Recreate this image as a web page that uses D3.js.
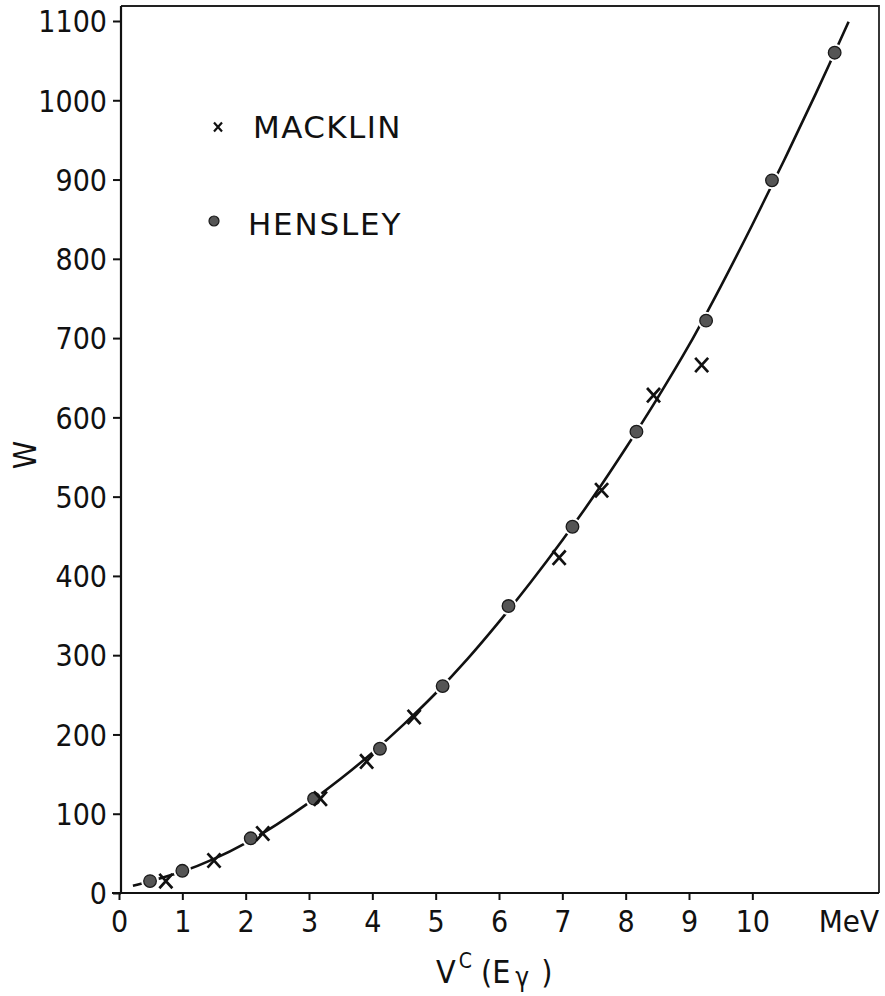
<!DOCTYPE html>
<html>
<head>
<meta charset="utf-8">
<script src="https://cdn.jsdelivr.net/npm/d3@7"></script>
<style>
  body { margin: 0; background: #fff; }
  svg text { font-family: "DejaVu Sans Condensed", "Liberation Sans", sans-serif; fill: #111; }
  svg text.legend { font-family: "DejaVu Sans", "Liberation Sans", sans-serif; }
</style>
</head>
<body>
<div id="chart"></div>
<script>
// fitted curve (V^c in MeV, W)
const curveV = [0.22, 0.5, 1, 1.5, 2, 2.5, 3, 3.5, 4, 4.5, 5, 5.5, 6, 6.5, 7, 7.5, 8, 8.5, 9, 9.5, 10, 10.5, 11, 11.52];
const curveW = [9, 15, 27, 43, 63, 87, 114, 144, 177, 213, 252, 295, 342, 392, 445, 501, 561, 624, 691, 765, 843, 924, 1008, 1099];

// MACKLIN (crosses)
const macklinV = [0.74, 1.50, 2.27, 3.18, 3.91, 4.66, 6.95, 7.62, 8.44, 9.20];
const macklinW = [15, 41, 75, 119, 166, 222, 423, 508, 628, 666];

// HENSLEY (dots)
const hensleyV = [0.49, 1.0, 2.08, 3.08, 4.12, 5.11, 6.15, 7.16, 8.17, 9.27, 10.31, 11.3];
const hensleyW = [15, 28, 69, 119, 182, 261, 362, 462, 582, 722, 899, 1060];

const xTicks = [0, 1, 2, 3, 4, 5, 6, 7, 8, 9, 10];
const yTicks = [0, 100, 200, 300, 400, 500, 600, 700, 800, 900, 1000, 1100];

const width = 885, height = 996;
const mLeft = 121, mRight = 879, mTop = 6, mBottom = 893;

const svg = d3.select("#chart").append("svg")
    .attr("width", width)
    .attr("height", height);

const x = d3.scaleLinear().domain([0, 12]).range([119, mRight]);
const y = d3.scaleLinear().domain([0, 1100]).range([mBottom, 21]);

//frame
svg.append("path")
    .attr("d", `M${mLeft},${mTop} L${mRight},${mTop} L${mRight},${mBottom}`)
    .attr("fill", "none")
    .attr("stroke", "#222")
    .attr("stroke-width", 1.8);

//y axis
const yAxis = svg.append("g")
    .attr("transform", `translate(${mLeft},0)`)
    .call(d3.axisLeft(y).tickValues(yTicks).tickFormat(d3.format("d"))
        .tickSize(8).tickSizeOuter(0).tickPadding(6));
yAxis.select(".domain").remove();
yAxis.selectAll("line").attr("stroke", "#111").attr("stroke-width", 2);
yAxis.selectAll("text").style("font-size", "30px").attr("dy", "0.36em").attr("fill", "#111");

//x axis
const xAxis = svg.append("g")
    .attr("transform", `translate(0,${mBottom})`)
    .call(d3.axisBottom(x).tickValues(xTicks).tickFormat(d3.format("d"))
        .tickSize(7).tickSizeOuter(0).tickPadding(10));
xAxis.select(".domain").remove();
xAxis.selectAll("line").attr("stroke", "#111").attr("stroke-width", 2);
xAxis.selectAll("text").style("font-size", "30px").attr("dy", "0.72em").attr("fill", "#111");

//axis lines
svg.append("line")
    .attr("x1", mLeft).attr("x2", mLeft).attr("y1", mTop).attr("y2", mBottom)
    .attr("stroke", "#111").attr("stroke-width", 2.2);
svg.append("line")
    .attr("x1", 112).attr("x2", mRight).attr("y1", mBottom).attr("y2", mBottom)
    .attr("stroke", "#111").attr("stroke-width", 2.2);

//unit
svg.append("text")
    .attr("x", mRight)
    .attr("y", mBottom + 39)
    .attr("text-anchor", "end")
    .style("font-size", "31px")
    .text("MeV");

//curve
const pts = curveV.map((v, i) => [v, curveW[i]]);
const line = d3.line()
    .x(d => x(d[0]))
    .y(d => y(d[1]))
    .curve(d3.curveCatmullRom.alpha(0.5));
svg.append("path")
    .datum(pts)
    .attr("d", line)
    .attr("fill", "none")
    .attr("stroke", "#111")
    .attr("stroke-width", 2.6);

//hensley dots
const hensley = hensleyV.map((v, i) => ({ v: v, w: hensleyW[i] }));
svg.append("g").selectAll("circle")
    .data(hensley).enter().append("circle")
    .attr("cx", d => x(d.v)).attr("cy", d => y(d.w))
    .attr("r", 9).attr("fill", "#fff");
svg.append("g").selectAll("circle")
    .data(hensley).enter().append("circle")
    .attr("cx", d => x(d.v)).attr("cy", d => y(d.w))
    .attr("r", 6.3)
    .attr("fill", "#555")
    .attr("stroke", "#1a1a1a")
    .attr("stroke-width", 1.3);

//macklin crosses
function cross(s) {
    return `M${-s},${-s * 1.1} L${s},${s * 1.1} M${s},${-s * 1.1} L${-s},${s * 1.1}`;
}
const macklin = macklinV.map((v, i) => ({ v: v, w: macklinW[i] }));
svg.append("g").selectAll("path")
    .data(macklin).enter().append("path")
    .attr("transform", d => `translate(${x(d.v)},${y(d.w)})`)
    .attr("d", cross(6.5))
    .attr("fill", "none")
    .attr("stroke", "#111")
    .attr("stroke-width", 2.7);

//legend
svg.append("path")
    .attr("transform", "translate(218,127)")
    .attr("d", cross(4))
    .attr("fill", "none")
    .attr("stroke", "#111")
    .attr("stroke-width", 2.2);
svg.append("text")
    .attr("class", "legend")
    .attr("x", 253).attr("y", 138)
    .style("font-size", "31px")
    .style("letter-spacing", "1.4px")
    .text("MACKLIN");
svg.append("circle")
    .attr("cx", 214).attr("cy", 221).attr("r", 5)
    .attr("fill", "#555").attr("stroke", "#1a1a1a").attr("stroke-width", 1.2);
svg.append("text")
    .attr("class", "legend")
    .attr("x", 248).attr("y", 235)
    .style("font-size", "31px")
    .style("letter-spacing", "1.8px")
    .text("HENSLEY");

//y label
svg.append("text")
    .attr("transform", "translate(36,455) rotate(-90)")
    .attr("text-anchor", "middle")
    .style("font-size", "32px")
    .text("W");

//x label
const xl = svg.append("text")
    .attr("x", 436).attr("y", 983)
    .style("font-size", "32px");
xl.append("tspan").text("V");
xl.append("tspan").attr("dy", -15).attr("dx", 3).style("font-size", "21px").text("C");
xl.append("tspan").attr("dy", 15).attr("dx", 9).text("(E");
xl.append("tspan").attr("dy", 3).attr("dx", 5).style("font-size", "26px").text("γ");
xl.append("tspan").attr("dy", -3).attr("dx", 12).text(")");
</script>
</body>
</html>
